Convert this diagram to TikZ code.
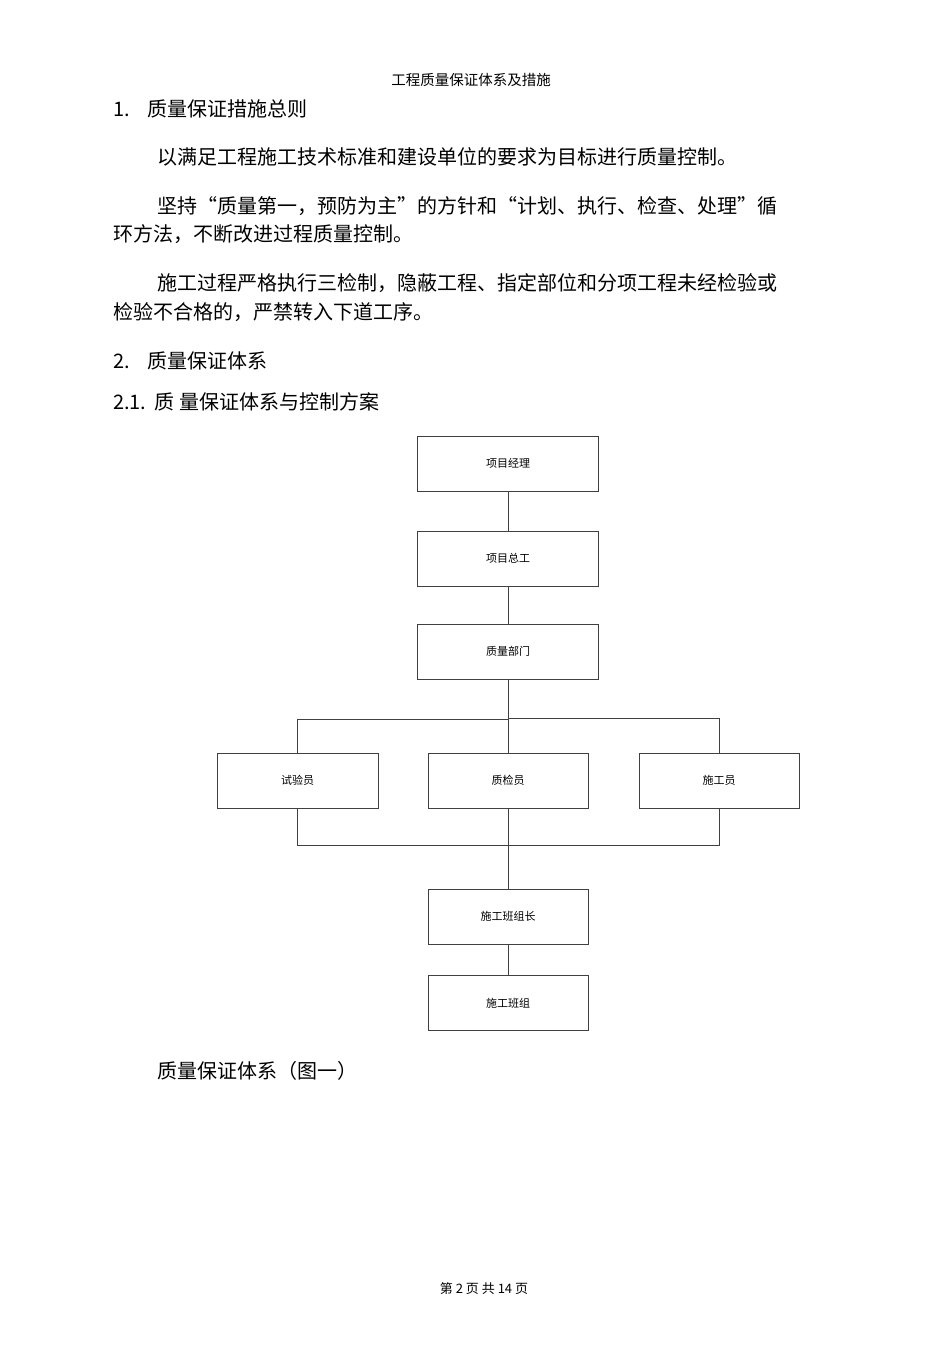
\documentclass[tikz,border=0pt]{standalone}
\usepackage{fontspec}
\setmainfont{Noto Sans CJK SC}
\begin{document}
\begin{tikzpicture}[x=1pt,y=-1pt,
 bx/.style={draw=black!75,line width=0.9pt,minimum width=#1,minimum height=55pt,inner sep=0pt,font=\fontsize{11}{13}\selectfont},
 bx/.default=181pt,
 ln/.style={draw=black!75,line width=0.9pt},
 tx/.style={anchor=west,inner sep=0pt,font=\fontsize{20}{24}\selectfont}]
\useasboundingbox[fill=white] (0,0) rectangle (950,1345);
\node[inner sep=0pt,font=\fontsize{14.5}{17}\selectfont] (hd) at (471,80) {工程质量保证体系及措施};
\node[tx] (t1) at (113,109) {1.\hspace{18pt}质量保证措施总则};
\node[tx] (t2) at (157,157) {以满足工程施工技术标准和建设单位的要求为目标进行质量控制。};
\node[tx] (t3) at (157,206) {坚持“质量第一，预防为主”的方针和“计划、执行、检查、处理”循};
\node[tx] (t4) at (113,234) {环方法，不断改进过程质量控制。};
\node[tx] (t5) at (157,283) {施工过程严格执行三检制，隐蔽工程、指定部位和分项工程未经检验或};
\node[tx] (t6) at (113,312) {检验不合格的，严禁转入下道工序。};
\node[tx] (t7) at (113,361) {2.\hspace{18pt}质量保证体系};
\node[tx] (t8) at (113,402) {2.1.\hspace{8pt}质 量保证体系与控制方案};
\node[tx] (t9) at (157,1071) {质量保证体系（图一）};
\node[inner sep=0pt,font=\fontsize{13}{15}\selectfont] (ft) at (484,1289) {第 2 页 共 14 页};

\node[bx] (a) at (508,463.5) {项目经理};
\node[bx] (b) at (508,558.5) {项目总工};
\node[bx] (c) at (508,651.5) {质量部门};
\node[bx=161pt] (d) at (297.5,780.5) {试验员};
\node[bx=160pt] (e) at (508,780.5) {质检员};
\node[bx=160pt] (f) at (719,780.5) {施工员};
\node[bx=160pt] (g) at (508,916.5) {施工班组长};
\node[bx=160pt] (h) at (508,1003) {施工班组};

\draw[ln] (a) -- (b);
\draw[ln] (b) -- (c);
\draw[ln] (c) -- (e);
\draw[ln] (d.north) -- ++(0,-33) -| (c.south);
\draw[ln] (f.north) -- ++(0,-34) -| (c.south);
\draw[ln] (d.south) -- ++(0,37) -| (f.south);
\draw[ln] (e) -- (g);
\draw[ln] (g) -- (h);
\end{tikzpicture}
\end{document}
